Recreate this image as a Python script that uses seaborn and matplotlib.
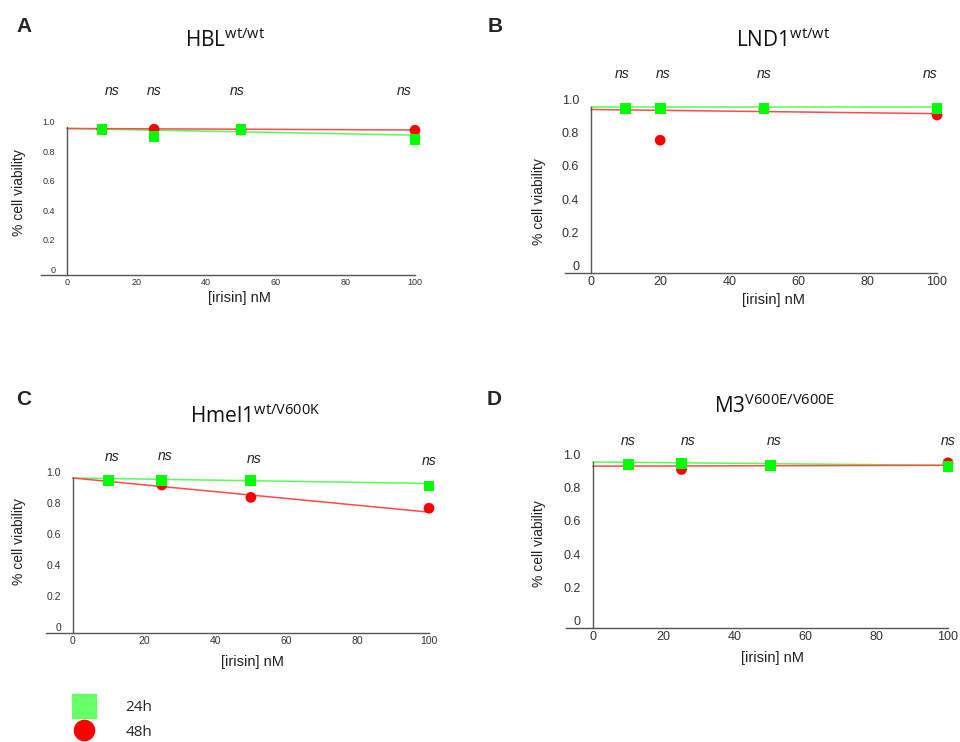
import numpy as np
import pandas as pd
import matplotlib
matplotlib.use('Agg')
import matplotlib.pyplot as plt
import seaborn as sns
from matplotlib.lines import Line2D

# values (cell viability, fraction of control)
fit_x = [0, 100]

# A - HBL
hbl_dose = [10, 25, 50, 100]
hbl_24 = [0.985, 0.935, 0.985, 0.915]
hbl_48 = [0.985, 0.985, 0.98, 0.978]
hbl_fit_24 = [0.99, 0.945]
hbl_fit_48 = [0.99, 0.98]
hbl_ns_x = [13, 25, 49, 97]

# B - LND1
lnd1_dose = [10, 20, 50, 100]
lnd1_24 = [0.99, 0.99, 0.99, 0.99]
lnd1_48 = [0.99, 0.80, 0.99, 0.952]
lnd1_fit_24 = [1.0, 1.0]
lnd1_fit_48 = [0.985, 0.96]
lnd1_ns_x = [9, 21, 50, 98]

# C - Hmel1
hmel1_dose = [10, 25, 50, 100]
hmel1_24 = [0.983, 0.983, 0.983, 0.948]
hmel1_48 = [0.985, 0.955, 0.875, 0.805]
hmel1_fit_24 = [1.0, 0.965]
hmel1_fit_48 = [1.0, 0.78]
hmel1_ns_x = [11, 26, 51, 100]

# D - M3
m3_dose = [10, 25, 50, 100]
m3_24 = [0.985, 0.99, 0.98, 0.975]
m3_48 = [0.985, 0.955, 0.98, 0.995]
m3_fit_24 = [1.0, 0.98]
m3_fit_48 = [0.975, 0.98]
m3_ns_x = [10, 27, 51, 100]

y_ticks = [0, 0.2, 0.4, 0.6, 0.8, 1.0]
y_tick_labels = ['0', '0.2', '0.4', '0.6', '0.8', '1.0']
x_ticks = [0, 20, 40, 60, 80, 100]

sns.set_style('white')
plt.rcParams['font.family'] = ['Liberation Sans', 'DejaVu Sans']
plt.rcParams['mathtext.fontset'] = 'custom'
plt.rcParams['mathtext.rm'] = 'Open Sans'

W, H = 960, 742
fig = plt.figure(figsize=(9.6, 7.42), dpi=100)

def px(x, y):
    return x / W, 1 - y / H

green = '#00ff00'
red = '#ff0000'
green_line = '#55ff55'
red_line = '#ff4a4a'

panels = [
    # letter, title, letter pos, title pos, axes box (left, top, right, bottom) in px,
    # dose, 24h, 48h, fit24, fit48, ns_x, ns_y, tick size, ylabel pos, xlabel pos
    ('A', r'HBL$^{\mathrm{wt/wt}}$', (16, 32), (225, 47), (41, 127, 415, 275),
     hbl_dose, hbl_24, hbl_48, hbl_fit_24, hbl_fit_48, hbl_ns_x, [1.243] * 4, 6.5,
     (-0.04, 0.56), (0.53, -0.108)),
    ('B', r'LND1$^{\mathrm{wt/wt}}$', (488, 32), (783, 47), (565, 107, 937, 273),
     lnd1_dose, lnd1_24, lnd1_48, lnd1_fit_24, lnd1_fit_48, lnd1_ns_x, [1.2] * 4, 9,
     (-0.051, 0.43), (0.56, -0.12)),
    ('C', r'Hmel1$^{\mathrm{wt/V600K}}$', (16, 405), (255, 423), (46, 478, 429, 633),
     hmel1_dose, hmel1_24, hmel1_48, hmel1_fit_24, hmel1_fit_48, hmel1_ns_x,
     [1.135, 1.14, 1.125, 1.11], 7.5, (-0.052, 0.59), (0.54, -0.142)),
    ('D', r'M3$^{\mathrm{V600E/V600E}}$', (487, 405), (775, 413), (566, 462, 948, 628),
     m3_dose, m3_24, m3_48, m3_fit_24, m3_fit_48, m3_ns_x, [1.127] * 4, 9,
     (-0.052, 0.51), (0.54, -0.139)),
]

for (letter, title, lpos, tpos, box, dose, v24, v48, f24, f48,
     ns_x, ns_y, tsize, ylab, xlab) in panels:
    l, t, r, b = box
    ax = fig.add_axes([l / W, 1 - b / H, (r - l) / W, (b - t) / H])

    sns.lineplot(x=fit_x, y=f24, color=green_line, lw=1.1, ax=ax, clip_on=False)
    sns.lineplot(x=fit_x, y=f48, color=red_line, lw=1.1, ax=ax, clip_on=False)
    sns.scatterplot(x=dose, y=v48, marker='o', color=red, s=60, edgecolor='none',
                    ax=ax, clip_on=False, zorder=3)
    sns.scatterplot(x=dose, y=v24, marker='s', color=green, s=60, edgecolor='none',
                    ax=ax, clip_on=False, zorder=4)

    ax.set_xlim(-7.5, 100)
    ax.set_ylim(0, 1.0)
    ax.spines['top'].set_visible(False)
    ax.spines['right'].set_visible(False)
    ax.spines['left'].set_position(('data', 0))
    for s in ['left', 'bottom']:
        ax.spines[s].set_color('#555555')
        ax.spines[s].set_linewidth(1.0)

    ax.set_xticks(x_ticks)
    ax.set_xticklabels([str(v) for v in x_ticks])
    ax.set_yticks(y_ticks)
    ax.set_yticklabels(y_tick_labels)
    ax.tick_params(axis='x', direction='out', length=5, pad=-3, width=1,
                   color='#555555', labelsize=tsize, labelcolor='#333333')
    ax.tick_params(axis='y', direction='out', length=6.5, pad=2, width=1,
                   color='#555555', labelsize=tsize, labelcolor='#333333')
    for lab in ax.get_yticklabels():
        lab.set_va('bottom')

    ax.set_ylabel('% cell viability', fontsize=10, color='#222222')
    ax.set_xlabel('[irisin] nM', fontsize=10.5, color='#222222')
    ax.yaxis.set_label_coords(*ylab)
    ax.xaxis.set_label_coords(*xlab)

    for xv, yv in zip(ns_x, ns_y):
        ax.text(xv, yv, 'ns', style='italic', fontsize=10, ha='center',
                va='center', color='#222222')

    fig.text(*px(*lpos), letter, fontsize=15, fontweight='bold', va='baseline')
    fig.text(*px(*tpos), title, fontsize=15, family='Open Sans', ha='center',
             va='baseline', color='#111111')

handles = [
    Line2D([], [], marker='s', ls='', color='#66ff66', markersize=17),
    Line2D([], [], marker='o', ls='', color=red, markersize=14.5),
]
fig.legend(handles=handles, labels=['24h', '48h'], loc='upper left',
           bbox_to_anchor=px(60, 688), frameon=False,
           prop={'family': 'Open Sans', 'size': 11},
           handlelength=1.6, handletextpad=1.9, labelspacing=0.62,
           borderpad=0.3)

fig.savefig('out.png', dpi=100)
